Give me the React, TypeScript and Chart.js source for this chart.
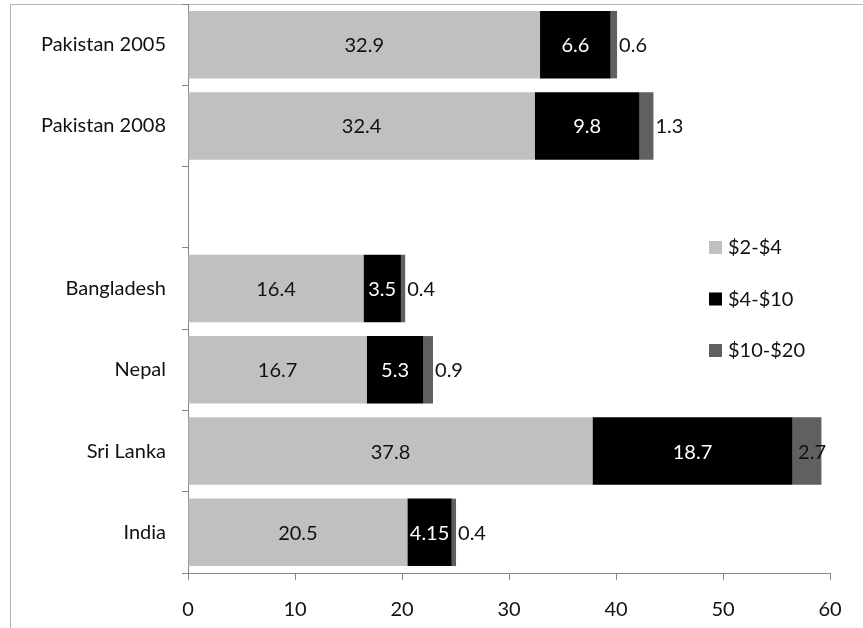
import React, { useEffect, useRef } from "react";
import { Chart, registerables } from "chart.js";

Chart.register(...registerables);

const categories = ["Pakistan 2005", "Pakistan 2008", "", "Bangladesh", "Nepal", "Sri Lanka", "India"];
const series2to4 = [32.9, 32.4, null, 16.4, 16.7, 37.8, 20.5];
const series4to10 = [6.6, 9.8, null, 3.5, 5.3, 18.7, 4.15];
const series10to20 = [0.6, 1.3, null, 0.4, 0.9, 2.7, 0.4];
const seriesNames = ["$2-$4", "$4-$10", "$10-$20"];
const seriesColors = ["#c0c0c0", "#000000", "#606060"];
const xTicks = [0, 10, 20, 30, 40, 50, 60];

const FONT = "Lato, 'DejaVu Sans', sans-serif";
const FS = 20;
const TEXT = "#111111";

const framePlugin = {
  id: "frame",
  beforeDraw(chart: any) {
    const ctx = chart.ctx;
    ctx.save();
    ctx.strokeStyle = "#b4b4b4";
    ctx.lineWidth = 1;
    ctx.beginPath();
    ctx.moveTo(10.5, chart.height);
    ctx.lineTo(10.5, 4.5);
    ctx.lineTo(chart.width, 4.5);
    ctx.stroke();
    ctx.restore();
  },
};

const labelPlugin = {
  id: "barLabels",
  afterDatasetsDraw(chart: any) {
    const ctx = chart.ctx;
    const area = chart.chartArea;
    ctx.save();
    ctx.font = `${FS}px ${FONT}`;
    ctx.textBaseline = "middle";
    chart.data.datasets.forEach((ds: any, i: number) => {
      const meta = chart.getDatasetMeta(i);
      meta.data.forEach((bar: any, j: number) => {
        const v = ds.data[j];
        if (v == null) return;
        const p = bar.getProps(["x", "y", "base"], true);
        const txt = String(v);
        if (i < 2) {
          ctx.fillStyle = i === 0 ? TEXT : "#ffffff";
          ctx.textAlign = "center";
          ctx.fillText(txt, (p.x + p.base) / 2, p.y + 1);
        } else {
          ctx.fillStyle = TEXT;
          ctx.textAlign = "left";
          const w = ctx.measureText(txt).width;
          let x = p.x + 2;
          if (x + w > area.right - 4) x = area.right - 4 - w;
          ctx.fillText(txt, x, p.y + 1);
        }
      });
    });
    ctx.restore();
  },
};

const legendPlugin = {
  id: "customLegend",
  afterDraw(chart: any) {
    const ctx = chart.ctx;
    ctx.save();
    ctx.font = `${FS}px ${FONT}`;
    ctx.textBaseline = "middle";
    ctx.textAlign = "left";
    const ys = [247, 298.5, 350];
    seriesNames.forEach((name, i) => {
      ctx.fillStyle = seriesColors[i];
      ctx.fillRect(709, ys[i] - 6, 13, 13);
      ctx.fillStyle = TEXT;
      ctx.fillText(name, 728, ys[i] + 1);
    });
    ctx.restore();
  },
};

export default function App() {
  const ref = useRef<HTMLCanvasElement>(null);
  useEffect(() => {
    if (!ref.current) return;
    const chart = new Chart(ref.current, {
      type: "bar",
      data: {
        labels: categories,
        datasets: [
          { label: seriesNames[0], data: series2to4, backgroundColor: seriesColors[0] },
          { label: seriesNames[1], data: series4to10, backgroundColor: seriesColors[1] },
          { label: seriesNames[2], data: series10to20, backgroundColor: seriesColors[2] },
        ] as any,
      },
      options: {
        indexAxis: "y",
        responsive: false,
        animation: false,
        devicePixelRatio: 1,
        layout: { padding: { left: 0, right: 33, top: 4, bottom: 0 } },
        datasets: { bar: { barPercentage: 0.83, categoryPercentage: 1 } } as any,
        plugins: { legend: { display: false }, tooltip: { enabled: false } },
        scales: {
          x: {
            stacked: true,
            min: 0,
            max: 60,
            afterBuildTicks: (s: any) => {
              s.ticks = xTicks.map((v) => ({ value: v }));
            },
            afterFit: (s: any) => {
              s.height = 55;
              s.paddingLeft = 0;
              s.paddingRight = 0;
            },
            grid: { drawOnChartArea: false, tickLength: 7, color: "#868686" },
            border: { color: "#868686" },
            ticks: { color: TEXT, font: { family: FONT, size: FS }, padding: 18, maxRotation: 0 },
          },
          y: {
            stacked: true,
            afterFit: (s: any) => {
              s.width = 188;
              s.paddingTop = 0;
              s.paddingBottom = 0;
            },
            grid: { drawOnChartArea: false, tickLength: 6, color: "#868686", offset: true },
            border: { color: "#868686" },
            ticks: { color: TEXT, font: { family: FONT, size: FS }, padding: 16, autoSkip: false },
          },
        },
      },
      plugins: [framePlugin, labelPlugin, legendPlugin],
    } as any);
    return () => chart.destroy();
  }, []);
  return (
    <div style={{ position: "fixed", left: 0, top: 0, width: 863, height: 628, background: "#fff" }}>
      <canvas ref={ref} width={863} height={628} />
    </div>
  );
}
